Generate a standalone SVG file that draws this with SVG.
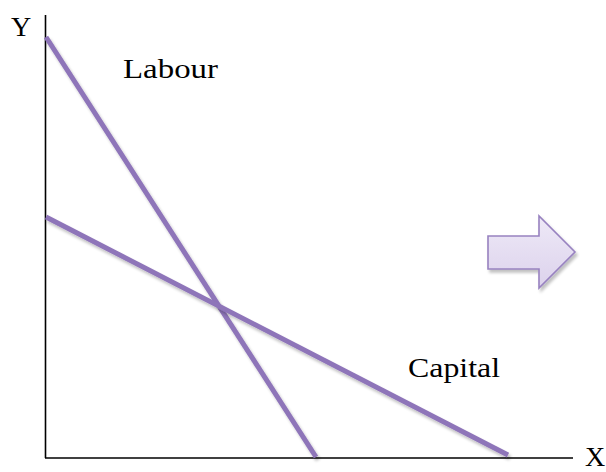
<svg xmlns="http://www.w3.org/2000/svg" width="606" height="472" viewBox="0 0 606 472">
<style>
.lbl{font-family:"Liberation Serif","DejaVu Serif",serif;font-size:28px;fill:#000}
.axis{stroke:#000;stroke-width:1.6;fill:none}
.curve{stroke:#8E74B9;stroke-width:5;fill:none;filter:url(#sh)}
</style>
<defs>
<filter id="sh" x="-10%" y="-10%" width="120%" height="120%">
<feGaussianBlur in="SourceAlpha" stdDeviation="1.5"/>
<feOffset dx="1.5" dy="2.5" result="b"/>
<feComponentTransfer><feFuncA type="linear" slope="0.25"/></feComponentTransfer>
<feMerge><feMergeNode/><feMergeNode in="SourceGraphic"/></feMerge>
</filter>
<linearGradient id="ag" x1="0" y1="0" x2="0" y2="1">
<stop offset="0" stop-color="#EEE9F7"/>
<stop offset="1" stop-color="#DCD2EC"/>
</linearGradient>
</defs>
<g id="axes">
<line class="axis" x1="45.5" y1="15" x2="45.5" y2="458"/>
<line class="axis" x1="45" y1="458" x2="573" y2="458"/>
<text class="lbl" x="11" y="36">Y</text>
<text class="lbl" x="585" y="466" font-size="26">X</text>
</g>
<g id="connectors">
<line id="labour-line" class="curve" x1="46" y1="37" x2="316" y2="457"/>
<line id="capital-line" class="curve" x1="46" y1="217" x2="508" y2="455"/>
</g>
<g id="labour"><text class="lbl" x="123" y="78" textLength="95" lengthAdjust="spacingAndGlyphs">Labour</text></g>
<g id="capital"><text class="lbl" x="408" y="377" textLength="92" lengthAdjust="spacingAndGlyphs">Capital</text></g>
<g id="arrow">
<polygon points="488,236 539,236 539,216 575,252 539,288 539,269 488,269" fill="url(#ag)" stroke="#9882C0" stroke-width="1.6" filter="url(#sh)"/>
</g>
</svg>
